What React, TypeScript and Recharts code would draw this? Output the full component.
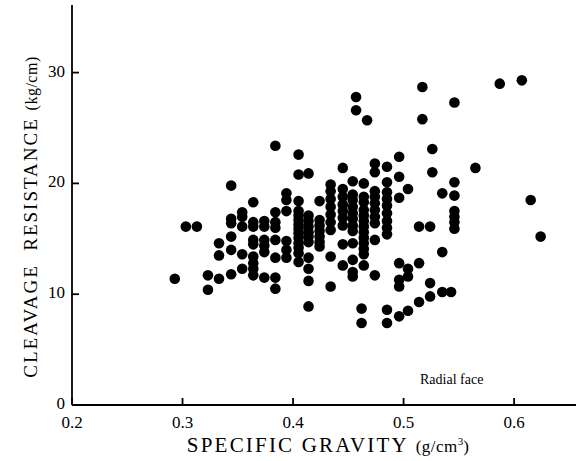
import { ScatterChart, Scatter, XAxis, YAxis } from "recharts";

// columns of dots: [specific gravity, cleavage resistance values at that gravity]
const leftColumns: [number, number[]][] = [
  [0.293, [11.4]],
  [0.303, [16.1]],
  [0.313, [16.1]],
  [0.323, [11.7, 10.4]],
  [0.333, [14.6, 13.5, 11.4]],
  [0.344, [19.8, 16.8, 16.4, 15.2, 14.0, 11.8]],
  [0.354, [17.4, 17.0, 16.1, 13.6, 12.3]],
  [0.364, [18.3, 16.5, 16.1, 14.9, 14.5, 13.4, 12.8, 12.3, 11.7]],
  [0.374, [16.6, 16.1, 14.9, 14.4, 13.8, 11.5]],
  [0.384, [23.4, 17.4, 16.5, 16.0, 14.9, 13.3, 11.5, 10.5]],
  [0.394, [19.1, 18.5, 17.5, 14.8, 14.0, 13.3]],
];

const centerColumns: [number, number[]][] = [
  [0.405, [22.6, 20.8, 18.4, 17.5, 17.1, 16.7, 16.3, 15.9, 15.5, 15.1, 14.6, 14.2, 13.7, 12.9]],
  [0.414, [20.9, 17.1, 16.6, 16.1, 15.6, 15.2, 14.7, 13.3, 12.3, 11.2, 8.9]],
  [0.424, [18.4, 16.7, 16.2, 15.7, 15.2, 14.7, 14.3]],
  [0.434, [19.9, 19.3, 18.6, 17.9, 17.2, 16.5, 15.8, 13.4, 10.7]],
  [0.445, [21.4, 19.5, 18.8, 18.1, 17.5, 16.9, 16.2, 14.5, 12.6]],
  [0.454, [20.2, 19.0, 18.5, 17.9, 17.3, 16.8, 16.2, 15.7, 14.6, 13.1, 12.0, 11.6]],
  [0.457, [27.8, 26.6]],
  [0.462, [8.7, 7.4]],
  [0.464, [20.0, 18.8, 18.3, 17.6, 17.1, 16.6, 16.1, 15.6, 15.1, 14.6, 14.1, 13.6, 12.6]],
  [0.467, [25.7]],
  [0.474, [21.8, 21.0, 19.3, 18.8, 18.2, 17.6, 17.0, 16.4, 14.9, 11.7]],
  [0.485, [21.5, 20.1, 19.2, 18.6, 18.0, 17.3, 16.6, 16.0, 15.4, 8.6, 7.4]],
  [0.496, [22.4, 20.6, 18.7, 12.8, 11.3, 10.7, 8.0]],
];

const rightColumns: [number, number[]][] = [
  [0.504, [19.5, 12.3, 11.6, 8.5]],
  [0.514, [16.1, 12.8, 9.3]],
  [0.517, [28.7, 25.8]],
  [0.524, [16.1, 11.0, 9.8]],
  [0.526, [23.1, 21.0]],
  [0.535, [19.1, 13.8, 10.2]],
  [0.543, [10.2]],
  [0.546, [27.3, 20.1, 18.9, 17.5, 17.0, 16.5, 15.9]],
  [0.565, [21.4]],
  [0.587, [29.0]],
  [0.607, [29.3]],
  [0.615, [18.5]],
  [0.624, [15.2]],
];

const xTicks = [0.2, 0.3, 0.4, 0.5, 0.6];
const yTicks = [0, 10, 20, 30];

const points = [...leftColumns, ...centerColumns, ...rightColumns].flatMap(([sg, values]) =>
  values.map((v) => ({ sg, cr: v }))
);

const FONT = "'Liberation Serif', 'DejaVu Serif', serif";

const XTick = ({ x, y, payload }: any) => (
  <g>
    <line x1={x} y1={y} x2={x} y2={y - 7} stroke="#000" strokeWidth={1.8} />
    <text x={x} y={y + 23} textAnchor="middle" fontFamily={FONT} fontSize={17} fill="#000">
      {payload.value.toFixed(1)}
    </text>
  </g>
);

const YTick = ({ x, y, payload }: any) => (
  <g>
    <line x1={x} y1={y} x2={x + 7} y2={y} stroke="#000" strokeWidth={1.8} />
    <text x={x - 7} y={y + 4} textAnchor="end" fontFamily={FONT} fontSize={17} fill="#000">
      {payload.value}
    </text>
  </g>
);

const Dot = ({ cx, cy }: any) => <circle cx={cx} cy={cy} r={5.3} fill="#000" />;

export default function App() {
  return (
    <div style={{ position: "absolute", left: 0, top: 0, width: 576, height: 461, background: "#fff" }}>
      <ScatterChart width={576} height={461} margin={{ top: 5, right: 0, left: 0, bottom: 0 }}>
        <XAxis
          type="number"
          dataKey="sg"
          domain={[0.2, 0.656]}
          ticks={xTicks}
          allowDataOverflow
          height={56}
          tickSize={0}
          tickMargin={0}
          tickLine={false}
          tick={<XTick />}
          axisLine={{ stroke: "#000", strokeWidth: 1.8 }}
        />
        <YAxis
          type="number"
          dataKey="cr"
          domain={[0, 36.1]}
          ticks={yTicks}
          allowDataOverflow
          width={72}
          tickSize={0}
          tickMargin={0}
          tickLine={false}
          tick={<YTick />}
          axisLine={{ stroke: "#000", strokeWidth: 1.8 }}
        />
        <Scatter data={points} shape={<Dot />} isAnimationActive={false} />
      </ScatterChart>
      <svg width={576} height={461} style={{ position: "absolute", left: 0, top: 0, pointerEvents: "none" }}>
        <text x={329} y={452} textAnchor="middle" fontFamily={FONT} fontSize={21} letterSpacing={2.2} fill="#000">
          SPECIFIC GRAVITY <tspan fontSize={17} letterSpacing={0.5}>(g/cm</tspan>
          <tspan fontSize={11} dy={-7} letterSpacing={0}>3</tspan>
          <tspan fontSize={17} dy={7}>)</tspan>
        </text>
        <text
          transform="translate(37, 217) rotate(-90)"
          textAnchor="middle"
          fontFamily={FONT}
          fontSize={19}
          letterSpacing={2}
          fill="#000"
        >
          CLEAVAGE{"\u00a0\u00a0"}RESISTANCE <tspan fontSize={16} letterSpacing={0.5}>(kg/cm)</tspan>
        </text>
        <text x={420} y={384} fontFamily={FONT} fontSize={14} fill="#000">
          Radial face
        </text>
      </svg>
    </div>
  );
}
